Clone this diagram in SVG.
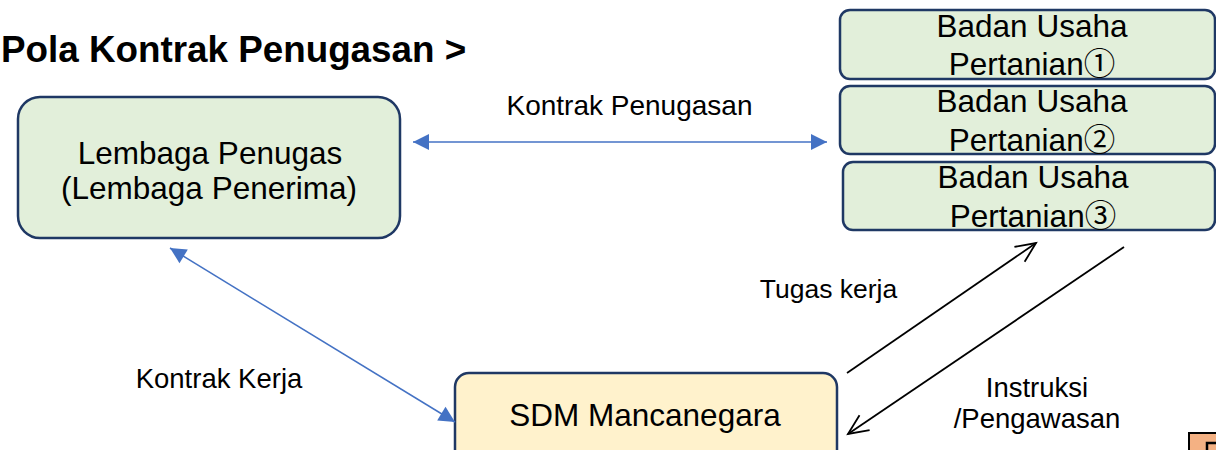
<svg xmlns="http://www.w3.org/2000/svg" width="1216" height="450" viewBox="0 0 1216 450">
<style>
.t{font-family:"Liberation Sans","Noto Sans CJK JP",Arial,sans-serif;fill:#000}
.box{stroke:#1F3864;stroke-width:2.5}
.g{fill:#E2EFDA}
.y{fill:#FFF2CC}
.blue{stroke:#4472C4;stroke-width:1.5;fill:none}
.blk{stroke:#000;stroke-width:1.8;fill:none}
.bt{font-size:31.5px}
</style>
<defs>
<marker id="bh" markerUnits="userSpaceOnUse" markerWidth="18" markerHeight="18" refX="16" refY="8" orient="auto-start-reverse" overflow="visible">
<path d="M0,0 L16,8 L0,16 z" fill="#4472C4"/>
</marker>
<marker id="kh" markerUnits="userSpaceOnUse" markerWidth="22" markerHeight="22" refX="20" refY="9" orient="auto" overflow="visible">
<path d="M0,0 L20,9 L0,18" fill="none" stroke="#000" stroke-width="1.8"/>
</marker>
</defs>
<text class="t" x="1" y="62" font-size="36.8" font-weight="bold">Pola Kontrak Penugasan &gt;</text>
<g id="lembaga">
<rect class="box g" x="18" y="97" width="382" height="141" rx="22"/>
<text class="t bt" x="210" y="164" text-anchor="middle">Lembaga Penugas</text>
<text class="t bt" x="209" y="199" text-anchor="middle">(Lembaga Penerima)</text>
</g>
<g id="bu1">
<rect class="box g" x="840" y="10" width="375" height="69" rx="10"/>
<text class="t bt" x="1032" y="37" text-anchor="middle">Badan Usaha</text>
<text class="t bt" x="1032" y="75" text-anchor="middle">Pertanian①</text>
</g>
<g id="bu2">
<rect class="box g" x="840" y="86" width="375" height="68" rx="10"/>
<text class="t bt" x="1032" y="112" text-anchor="middle">Badan Usaha</text>
<text class="t bt" x="1032" y="151" text-anchor="middle">Pertanian②</text>
</g>
<g id="bu3">
<rect class="box g" x="843" y="162" width="372" height="68" rx="10"/>
<text class="t bt" x="1033" y="188" text-anchor="middle">Badan Usaha</text>
<text class="t bt" x="1033" y="227" text-anchor="middle">Pertanian③</text>
</g>
<g id="sdm">
<rect class="box y" x="455" y="373" width="382" height="95" rx="14"/>
<text class="t bt" x="645" y="426" text-anchor="middle">SDM Mancanegara</text>
</g>
<g id="connectors">
<line class="blue" x1="413" y1="142" x2="827" y2="142" marker-start="url(#bh)" marker-end="url(#bh)"/>
<line class="blue" x1="170" y1="248" x2="455" y2="422" marker-start="url(#bh)" marker-end="url(#bh)"/>
<line class="blk" x1="847" y1="373" x2="1036" y2="243" marker-end="url(#kh)"/>
<line class="blk" x1="1124" y1="247" x2="848" y2="434" marker-end="url(#kh)"/>
</g>
<g id="labels">
<text class="t" x="629.5" y="115" font-size="28" text-anchor="middle">Kontrak Penugasan</text>
<text class="t" x="219" y="388" font-size="27.5" text-anchor="middle">Kontrak Kerja</text>
<text class="t" x="828.5" y="298" font-size="26.5" text-anchor="middle">Tugas kerja</text>
<text class="t" x="1037" y="397" font-size="27.5" text-anchor="middle">Instruksi</text>
<text class="t" x="1037" y="428" font-size="27.5" text-anchor="middle">/Pengawasan</text>
</g>
<g id="corner">
<rect x="1189" y="433" width="40" height="30" fill="#F4B183" stroke="#000" stroke-width="2"/>
<path d="M1207,452 L1207,443 L1218,443" fill="none" stroke="#000" stroke-width="2.5"/>
</g>
</svg>
